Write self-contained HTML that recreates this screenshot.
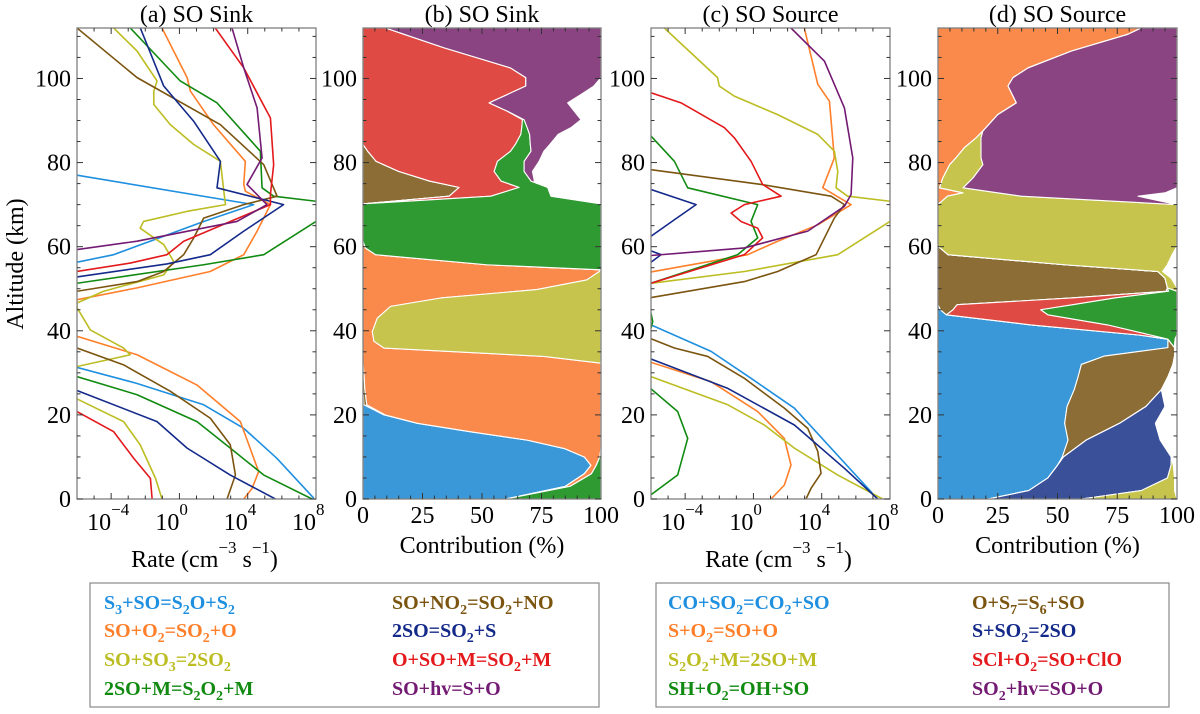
<!DOCTYPE html>
<html><head><meta charset="utf-8"><style>
html,body{margin:0;padding:0;background:#fff;}
svg{display:block;font-family:"Liberation Serif","DejaVu Serif",serif;}
text{font-family:"Liberation Serif","DejaVu Serif",serif;}
.lg{font-family:"Liberation Serif","DejaVu Serif",serif;font-weight:bold;font-size:20px;}
</style></head><body>
<svg id="chart" width="1200" height="714" viewBox="0 0 1200 714" xmlns="http://www.w3.org/2000/svg">
<defs>
<clipPath id="clipA"><rect x="77" y="28" width="239" height="471"/></clipPath>
<clipPath id="clipC"><rect x="651" y="28" width="239" height="471"/></clipPath>
</defs>
<g id="root"></g>
<g>
<rect x="90" y="583" width="509" height="124" fill="#fff" stroke="#888" stroke-width="1.2"/>
<text class="lg" x="104" y="609" fill="#1f8fdf">S<tspan dy="5" font-size="14">3</tspan><tspan dy="-5">+SO=S</tspan><tspan dy="5" font-size="14">2</tspan><tspan dy="-5">O+S</tspan><tspan dy="5" font-size="14">2</tspan></text>
<text class="lg" x="104" y="637" fill="#ff7f2a">SO+O<tspan dy="5" font-size="14">2</tspan><tspan dy="-5">=SO</tspan><tspan dy="5" font-size="14">2</tspan><tspan dy="-5">+O</tspan></text>
<text class="lg" x="104" y="666" fill="#bcbd22">SO+SO<tspan dy="5" font-size="14">3</tspan><tspan dy="-5">=2SO</tspan><tspan dy="5" font-size="14">2</tspan></text>
<text class="lg" x="104" y="695" fill="#118a11">2SO+M=S<tspan dy="5" font-size="14">2</tspan><tspan dy="-5">O</tspan><tspan dy="5" font-size="14">2</tspan><tspan dy="-5">+M</tspan></text>
<text class="lg" x="392" y="609" fill="#7b5510">SO+NO<tspan dy="5" font-size="14">2</tspan><tspan dy="-5">=SO</tspan><tspan dy="5" font-size="14">2</tspan><tspan dy="-5">+NO</tspan></text>
<text class="lg" x="392" y="637" fill="#142a8a">2SO=SO<tspan dy="5" font-size="14">2</tspan><tspan dy="-5">+S</tspan></text>
<text class="lg" x="392" y="666" fill="#e3191c">O+SO+M=SO<tspan dy="5" font-size="14">2</tspan><tspan dy="-5">+M</tspan></text>
<text class="lg" x="392" y="695" fill="#731a73">SO+hv=S+O</text>
</g>
<g>
<rect x="656" y="583" width="513" height="124" fill="#fff" stroke="#888" stroke-width="1.2"/>
<text class="lg" x="668" y="609" fill="#1f8fdf">CO+SO<tspan dy="5" font-size="14">2</tspan><tspan dy="-5">=CO</tspan><tspan dy="5" font-size="14">2</tspan><tspan dy="-5">+SO</tspan></text>
<text class="lg" x="668" y="637" fill="#ff7f2a">S+O<tspan dy="5" font-size="14">2</tspan><tspan dy="-5">=SO+O</tspan></text>
<text class="lg" x="668" y="666" fill="#bcbd22">S<tspan dy="5" font-size="14">2</tspan><tspan dy="-5">O</tspan><tspan dy="5" font-size="14">2</tspan><tspan dy="-5">+M=2SO+M</tspan></text>
<text class="lg" x="668" y="695" fill="#118a11">SH+O<tspan dy="5" font-size="14">2</tspan><tspan dy="-5">=OH+SO</tspan></text>
<text class="lg" x="972" y="609" fill="#7b5510">O+S<tspan dy="5" font-size="14">7</tspan><tspan dy="-5">=S</tspan><tspan dy="5" font-size="14">6</tspan><tspan dy="-5">+SO</tspan></text>
<text class="lg" x="972" y="637" fill="#142a8a">S+SO<tspan dy="5" font-size="14">2</tspan><tspan dy="-5">=2SO</tspan></text>
<text class="lg" x="972" y="666" fill="#e3191c">SCl+O<tspan dy="5" font-size="14">2</tspan><tspan dy="-5">=SO+ClO</tspan></text>
<text class="lg" x="972" y="695" fill="#731a73">SO<tspan dy="5" font-size="14">2</tspan><tspan dy="-5">+hv=SO+O</tspan></text>
</g>
</svg>
<script>
// ---------- Panel (a) SO sink rates: altitude (km) and log10 rate ----------
const aS3SO_alt=[77,70,66,58.1,56.3,null,31.3,27.5,22.4,16.8,9.7,0.2];
const aS3SO_val=[-6,4.35,1.42,-3.85,-6,null,-6,-2.5,1.42,3.77,5.7,7.87];
const aSOO2_alt=[112,100.2,97,89,80.3,74.8,73.2,70,63.7,58.1,54.1,50.2,47.4,null,38.7,34.3,27.1,18.4,6.5,2.5,0];
const aSOO2_val=[-1.02,0.45,0.64,2.0,3.86,3.77,3.86,5.33,4.55,3.77,1.8,-2.48,-6,null,-6,-2.48,1.03,3.57,4.64,4.25,3.77];
const aSOSO3_alt=[112,106.5,99.4,97,93.8,89,84.3,80.3,73.2,70,68.4,66,64.4,60.5,56.5,53.3,49.4,46.6,45.5,40.2,35.9,34.3,31.5,null,23.8,18.4,12.9,4.9,0];
const aSOSO3_val=[-3.85,-2.48,-1.31,-1.5,-1.5,-0.53,0.84,2.4,2.6,2.7,0.45,-2.1,-2.3,-0.92,-0.34,-0.92,-4.44,-6,-6,-5.22,-3.27,-2.88,-6,null,-6,-3.27,-2.3,-1.4,-1.02];
const a2SOM_alt=[112,99.4,94.2,82.7,74,72,70.8,69,66,58.1,55.7,51.3,null,29.1,24.8,18.4,12.1,5.7,0];
const a2SOM_val=[-2.88,0.05,2.2,4.74,4.84,5.52,8,8.5,8,4.94,1.42,-6,null,-6,-2.48,1.03,2.98,4.94,7.77];
const aSONO2_alt=[112,100.2,89,79.5,72,70,66.8,62.1,58.1,54.1,51.7,49.4,null,35.9,31.9,25.6,19.2,12.9,5.7,0];
const aSONO2_val=[-6,-2.48,2.4,4.94,5.72,3.77,1.42,0.84,0.25,-0.92,-2.48,-6,null,-6,-3.27,-0.53,1.81,2.98,3.28,2.79];
const a2SO_alt=[112,98.2,89.8,80.3,74,70,63.7,58.1,55.9,52.8,null,25.8,18.4,12.1,5.7,0];
const a2SO_val=[-2.29,-0.92,0.84,2.4,2.2,6.1,3.77,1.81,-0.73,-6,null,-6,-1.31,0.45,2.98,5.62];
const aOSOM_alt=[112,102.5,90.6,79.5,72.4,70,66,61.3,58.1,56.1,54.1,null,20.8,16,9.7,4.9,0];
const aOSOM_val=[2.1,3.77,5.33,5.52,5.33,5.33,2.98,0.25,-0.73,-2.88,-6,null,-6,-3.85,-2.68,-1.7,-1.6];
const aSOhv_alt=[112,102.5,93,81.1,74.8,70,66,61.3,59.3];
const aSOhv_val=[3.08,3.77,4.55,4.84,3.96,5.13,3.37,-2.48,-6];

// ---------- Panel (c) SO source rates ----------
const cCOSO2_alt=[41.4,35.1,28.7,21.6,0];
const cCOSO2_val=[-6,-2.48,-0.14,2.4,7.28];
const cSO2_alt=[112,98.6,94.6,81.1,74,70,65.2,61.3,58.1,54,null,32.5,27.9,20.8,14.4,8.1,3.3,0];
const cSO2_val=[2.98,3.77,4.45,4.74,4.06,5.72,3.77,1.42,-0.34,-6,null,-6,-2.48,0.25,1.81,2.2,1.81,1.03];
const cS2O2M_alt=[112,100.2,98.2,95.8,91.4,86.7,82.7,77.9,74,72,70.8,69,66,58.1,54.1,51.3,null,29.1,22.4,17.6,12.1,5.7,0];
const cS2O2M_val=[-5.22,-2.1,-2.0,-1.12,1.42,3.77,4.74,4.94,4.84,5.52,8,8.5,8,4.94,-0.53,-6,null,-6,-1.5,0.64,2.4,4.94,7.57];
const cSHO2_alt=[86.3,80.3,74,70,66,62.1,58.1,51.3,null,44.2,42.2,40.6,null,26.2,20.8,14.4,5.7,1];
const cSHO2_val=[-6,-4.63,-3.85,0.25,-0.14,0.25,-0.92,-6,null,-6,-5.9,-6,null,-6,-4.44,-3.85,-4.44,-6];
const cOS7_alt=[78.3,74.8,72,70,66.8,58.1,54.1,51.7,47.9,null,38.1,35.9,33.9,28.7,21.6,16.8,11.3,6.1,2.5,0];
const cOS7_val=[-6,0.45,4.55,5.33,4.74,3.67,1.42,-0.53,-6,null,-6,-4.63,-2.68,-0.53,1.81,3.18,3.77,3.96,3.37,3.08];
const cSSO2_alt=[73.6,70,66.4,62.5,null,59,58.1,56.3,null,33.3,26.3,17.6,7.3,0];
const cSSO2_val=[-6,-3.36,-4.63,-6,null,-6,-5.41,-6,null,-6,-1.5,2.4,5.33,7.28];
const cSClO2_alt=[96.6,94.2,88.3,85.9,80.3,74.8,72,70,68,66,64.4,62.1,58.1,51.3];
const cSClO2_val=[-6,-4.24,-1.7,-1.12,-0.14,0.54,1.62,-0.53,-1.31,-0.73,0.25,0.54,-0.53,-6];
const cSO2hv_alt=[112,104.1,93,81.1,72.4,69.6,63.7,59.7,57.9];
const cSO2hv_val=[2.2,4.16,5.33,5.82,5.72,5.33,3.18,-0.53,-6];

// ---------- Panel (b) sink contributions (%) ----------
const bAlt=[0,3,6,8,10,12,14,16,18,20,22.4,26,30,32.3,33.9,35.9,37.5,39.8,43,45.8,47.8,49.8,52.1,54.1,54.5,55.7,58.1,59.7,61.3,70,70.2,72,74.1,75.6,77.9,80.3,82.7,84.3,86.7,88.3,90.2,92.2,94.2,96.2,98.2,100.2,102.5,107.3,110.5,112];
const bS3SO =[60,85,93,95.8,93,84.6,69,45,22.9,8.8,0.4,0,0,0,0,0,0,0,0,0,0,0,0,0,0,0,0,0,0,0,0,0,0,0,0,0,0,0,0,0,0,0,0,0,0,0,0,0,0,0];
const bSONO2=[0,0,0,0,0,0,0,0,0,0.5,1.2,0.8,0.4,0,0,0,0,0,0,0,0,0,0,0,0,0,0,0,0,0,0.4,36.2,40.4,28,15,5.5,2,0,0,0,0,0,0,0,0,0,0,0,0,0];
const bSOO2 =[0,2,3,2.2,6.5,15.4,31,55,77.1,90.7,98.4,99.2,99.6,100,76,8.8,4.6,3.9,6,11.6,32.7,73,94,99.3,100,52,5.3,1,0,0,0,0,0,0,0,0,0,0,0,0,0,0,0,0,0,0,0,0,0,0];
const bSOSO3=[0,0,0,0,0,0,0,0,0,0,0,0,0,0,24,91.2,95.4,96.1,94,88.4,67.3,27,6,0.7,0,0,0,0,0,0,0,0,0,0,0,0,0,0,0,0,0,0,0,0,0,0,0,0,0,0];
const bOSOM =[0,0,0,0,0,0,0,0,0,0,0,0,0,0,0,0,0,0,0,0,0,0,0,0,0,0,0,0,0,0,0,17.5,25.2,30,40.1,51,60,64,66.3,66.7,67,60.7,53,60.7,68.4,68.4,62,34,17.3,9.5];
const b2SOM  =[40,13,4,2,0.5,0,0,0,0,0,0,0,0,0,0,0,0,0,0,0,0,0,0,0,0,48,94.7,99,100,100,99.6,25.3,12,12.6,12.6,11.2,8.6,6.3,3.7,2.3,0.7,0,0,0,0,0,0,0,0,0];
const bSOhv  =[0,0,0,0,0,0,0,0,0,0,0,0,0,0,0,0,0,0,0,0,0,0,0,0,0,0,0,0,0,0,0,0,0,1.4,3.5,6.3,5.4,8.2,12,18.4,23.9,28.1,33,30.9,28.6,31.6,38,66,82.7,90.5];

// ---------- Panel (d) source contributions (%) ----------
const dAlt=[0,2,5,8,10,14,18,22,26,29,32,34,36,38,39,41.4,43.8,45,46.2,47.8,49.4,50.2,52.5,54.1,55.7,58.1,60.1,70,72,72.8,74,76.3,79.5,81.1,83.5,85.9,87.5,91.4,94.2,98.2,100.2,102.5,106.5,110.5,112];
const dCOSO2=[21,38,46,50,52,54.4,53,54,57,58.6,60,69.7,96.2,96.2,84,39,3.5,1,0,0,0,0,0,0,0,0,0,0,0,0,0,0,0,0,0,0,0,0,0,0,0,0,0,0,0];
const dOS7  =[0,0,0,0,0.5,7.6,23,33,36.5,37.6,38.3,29.3,2.8,0,0,0,0,5.3,8,56,95.5,96,95,92,53,4.2,0,0,0,0,0,0,0,0,0,0,0,0,0,0,0,0,0,0,0];
const dSO2  =[0,0,0,0,0,0,0,0,0,0,0,0,0,0,0,0,0,0,0,0,0,0,0,0,0,0,0,0,4,10.5,0.7,2,4.9,7.5,11,16,18.8,25,32.8,29.3,31.4,37.7,55.8,79.5,85];
const dSClO2=[0,0,0,0,0,0,0,0,0,0,0,0,0,0,5,32,42.5,36.7,48.5,18,1,0,0,0,0,0,0,0,0,0,0,0,0,0,0,0,0,0,0,0,0,0,0,0,0];
const dSHO2 =[0,0,0,0,0,0,0,0,0,0,0,0,0,3,11,29,54,57,43.5,26,3.5,0,0,0,0,0,0,0,0,0,0,0,0,0,0,0,0,0,0,0,0,0,0,0,0];
const dSSO2 =[39,47,50,47.5,45.1,31,15,8,0,0,0,0,0,0,0,0,0,0,0,0,0,0,0,0,0,0,0,0,0,0,0,0,0,0,0,0,0,0,0,0,0,0,0,0,0];
const dS2O2M=[40,14,3,1,0,0,0,0,0,0,0,0,0,0,0,0,0,0,0,0,0,4,2.6,2,43,93.8,100,100,30.9,14.5,9.8,12.6,13.9,10.5,7,2,0,0,0,0,0,0,0,0,0];
const dSO2hv=[0,0,0,0,0,0,0,0,0,0,0,0,0,0,0,0,0,0,0,0,0,0,0,0,0,0,0,0,48.8,70,89.5,85.4,81.2,82,82,82,81.2,75,67.2,70.7,68.6,62.3,44.2,20.5,15];

const altTicks=[0,20,40,60,80,100];
const logTicks=[-4,0,4,8];
const pctTicks=[0,25,50,75,100];

const NS='http://www.w3.org/2000/svg';
const root=document.getElementById('root');
const Y0=499,Y1=28,AMAX=112;
function yS(a){return Y0-a*(Y0-Y1)/AMAX;}
function mk(tag,attrs,parent){const e=document.createElementNS(NS,tag);for(const k in attrs)e.setAttribute(k,attrs[k]);if(tag==='text')e.setAttribute('style',"font-family:'Liberation Serif','DejaVu Serif',serif");(parent||root).appendChild(e);return e;}

const panels=[
 {key:'a',x0:77,x1:316,type:'log',title:'(a) SO Sink'},
 {key:'b',x0:363,x1:601,type:'pct',title:'(b) SO Sink'},
 {key:'c',x0:651,x1:890,type:'log',title:'(c) SO Source'},
 {key:'d',x0:938,x1:1177,type:'pct',title:'(d) SO Source'}
];
function xLog(p,v){return p.x0+(v+6)/14*(p.x1-p.x0);}
function xPct(p,v){return p.x0+v/100*(p.x1-p.x0);}

function drawLines(p,g,series,clip){
  const lg=mk('g',{'clip-path':'url(#'+clip+')'},g);
  
  
  series.forEach(s=>{
    let d='',pen=false;
    for(let i=0;i<s.alt.length;i++){
      if(s.alt[i]===null){pen=false;continue;}
      d+=(pen?'L':'M')+xLog(p,s.val[i]).toFixed(2)+' '+yS(s.alt[i]).toFixed(2);pen=true;
    }
    const path=mk('path',{d:d,fill:'none',stroke:s.color,'stroke-width':1.6,'stroke-linejoin':'round'},lg);
    
    
  });
}
function drawStack(p,g,alt,series){
  const sg=mk('g',{},g);
  
  
  const cum=alt.map(()=>0);
  series.forEach(s=>{
    const lo=cum.slice();
    for(let i=0;i<alt.length;i++)cum[i]+=s.vals[i];
    let d='';
    for(let i=0;i<alt.length;i++)d+=(i?'L':'M')+xPct(p,Math.min(cum[i],100)).toFixed(2)+' '+yS(alt[i]).toFixed(2);
    for(let i=alt.length-1;i>=0;i--)d+='L'+xPct(p,Math.min(lo[i],100)).toFixed(2)+' '+yS(alt[i]).toFixed(2);
    d+='Z';
    const path=mk('path',{d:d,fill:s.color,stroke:'#fff','stroke-width':1.1,'stroke-linejoin':'round'},sg);
    
    
  });
}
function drawAxes(p,g){
  const ag=mk('g',{},g);
  
  
  const fr=mk('rect',{x:p.x0,y:Y1,width:p.x1-p.x0,height:Y0-Y1,fill:'none',stroke:'#808080','stroke-width':1.3},ag);
  
  
  for(let a=0;a<=110;a+=5){
    const y=yS(a),L=(a%20===0)?6:3.5;
    mk('line',{x1:p.x0,x2:p.x0+L,y1:y,y2:y,stroke:'#333','stroke-width':1},ag);
    mk('line',{x1:p.x1,x2:p.x1-L,y1:y,y2:y,stroke:'#333','stroke-width':1},ag);
  }
  altTicks.forEach(a=>{
    const t=mk('text',{x:p.x0-6,y:yS(a)+8,'text-anchor':'end','font-size':24,fill:'#000'},ag);
    t.textContent=a;
    
    
  });
  if(p.type==='log'){
    for(let v=-5;v<=7;v++){
      const x=xLog(p,v),L=(v%4===0)?6:3.5;
      mk('line',{x1:x,x2:x,y1:Y0,y2:Y0-L,stroke:'#333','stroke-width':1},ag);
      mk('line',{x1:x,x2:x,y1:Y1,y2:Y1+L,stroke:'#333','stroke-width':1},ag);
    }
    logTicks.forEach(v=>{
      const x=xLog(p,v);
      const t=mk('text',{x:x-24,y:530,'font-size':24,fill:'#000'},ag);
      t.textContent='10';
      const s=mk('tspan',{dy:-15,'font-size':17},t);
      s.textContent=(v<0?'\u2212':'')+Math.abs(v);
      
      
    });
    const xt=mk('text',{x:(p.x0+p.x1)/2+8,y:567,'text-anchor':'middle','font-size':24,fill:'#000'},ag);
    xt.innerHTML='Rate (cm<tspan dy="-14" font-size="17">\u22123</tspan><tspan dy="14"> s</tspan><tspan dy="-14" font-size="17">\u22121</tspan><tspan dy="14">)</tspan>';
    
    
  }else{
    for(let v=5;v<100;v+=5){
      const x=xPct(p,v),L=(v%25===0)?6:3.5;
      mk('line',{x1:x,x2:x,y1:Y0,y2:Y0-L,stroke:'#333','stroke-width':1},ag);
      mk('line',{x1:x,x2:x,y1:Y1,y2:Y1+L,stroke:'#333','stroke-width':1},ag);
    }
    pctTicks.forEach(v=>{
      const t=mk('text',{x:xPct(p,v),y:523,'text-anchor':'middle','font-size':24,fill:'#000'},ag);
      t.textContent=v;
      
      
    });
    const xt=mk('text',{x:(p.x0+p.x1)/2,y:553,'text-anchor':'middle','font-size':24,fill:'#000'},ag);
    xt.textContent='Contribution (%)';
    
    
  }
  const tt=mk('text',{x:(p.x0+p.x1)/2,y:22,'text-anchor':'middle','font-size':24,fill:'#000'},ag);
  tt.textContent=p.title;
  
  
}

const C={lb:'#1f8fdf',or:'#ff7f2a',yg:'#bcbd22',gr:'#118a11',br:'#7b5510',nv:'#142a8a',rd:'#e3191c',pu:'#731a73'};
const F={lb:'#3a98d8',or:'#f98a4b',yg:'#c6c44c',gr:'#2f9a31',br:'#8b6d35',nv:'#3a5098',rd:'#e04a44',pu:'#8b4482'};

panels.forEach(p=>{
  const g=mk('g',{});
  
  
  if(p.key==='a'){
    drawLines(p,g,[
      {name:'s3-so',color:C.lb,alt:aS3SO_alt,val:aS3SO_val},
      {name:'so-o2',color:C.or,alt:aSOO2_alt,val:aSOO2_val},
      {name:'so-so3',color:C.yg,alt:aSOSO3_alt,val:aSOSO3_val},
      {name:'2so-m',color:C.gr,alt:a2SOM_alt,val:a2SOM_val},
      {name:'so-no2',color:C.br,alt:aSONO2_alt,val:aSONO2_val},
      {name:'2so',color:C.nv,alt:a2SO_alt,val:a2SO_val},
      {name:'o-so-m',color:C.rd,alt:aOSOM_alt,val:aOSOM_val},
      {name:'so-hv',color:C.pu,alt:aSOhv_alt,val:aSOhv_val}],'clipA');
  }else if(p.key==='c'){
    drawLines(p,g,[
      {name:'co-so2',color:C.lb,alt:cCOSO2_alt,val:cCOSO2_val},
      {name:'s-o2',color:C.or,alt:cSO2_alt,val:cSO2_val},
      {name:'s2o2-m',color:C.yg,alt:cS2O2M_alt,val:cS2O2M_val},
      {name:'sh-o2',color:C.gr,alt:cSHO2_alt,val:cSHO2_val},
      {name:'o-s7',color:C.br,alt:cOS7_alt,val:cOS7_val},
      {name:'s-so2',color:C.nv,alt:cSSO2_alt,val:cSSO2_val},
      {name:'scl-o2',color:C.rd,alt:cSClO2_alt,val:cSClO2_val},
      {name:'so2-hv',color:C.pu,alt:cSO2hv_alt,val:cSO2hv_val}],'clipC');
  }else if(p.key==='b'){
    drawStack(p,g,bAlt,[
      {name:'s3-so',color:F.lb,vals:bS3SO},
      {name:'so-no2',color:F.br,vals:bSONO2},
      {name:'so-o2',color:F.or,vals:bSOO2},
      {name:'so-so3',color:F.yg,vals:bSOSO3},
      {name:'o-so-m',color:F.rd,vals:bOSOM},
      {name:'2so-m',color:F.gr,vals:b2SOM},
      {name:'so-hv',color:F.pu,vals:bSOhv}]);
  }else{
    drawStack(p,g,dAlt,[
      {name:'co-so2',color:F.lb,vals:dCOSO2},
      {name:'o-s7',color:F.br,vals:dOS7},
      {name:'s-o2',color:F.or,vals:dSO2},
      {name:'scl-o2',color:F.rd,vals:dSClO2},
      {name:'sh-o2',color:F.gr,vals:dSHO2},
      {name:'s-so2',color:F.nv,vals:dSSO2},
      {name:'s2o2-m',color:F.yg,vals:dS2O2M},
      {name:'so2-hv',color:F.pu,vals:dSO2hv}]);
  }
  drawAxes(p,g);
});
const yl=mk('text',{x:0,y:0,transform:'translate(23,264) rotate(-90)','text-anchor':'middle','font-size':24,fill:'#000'});
yl.textContent='Altitude (km)';


</script>
</body></html>
